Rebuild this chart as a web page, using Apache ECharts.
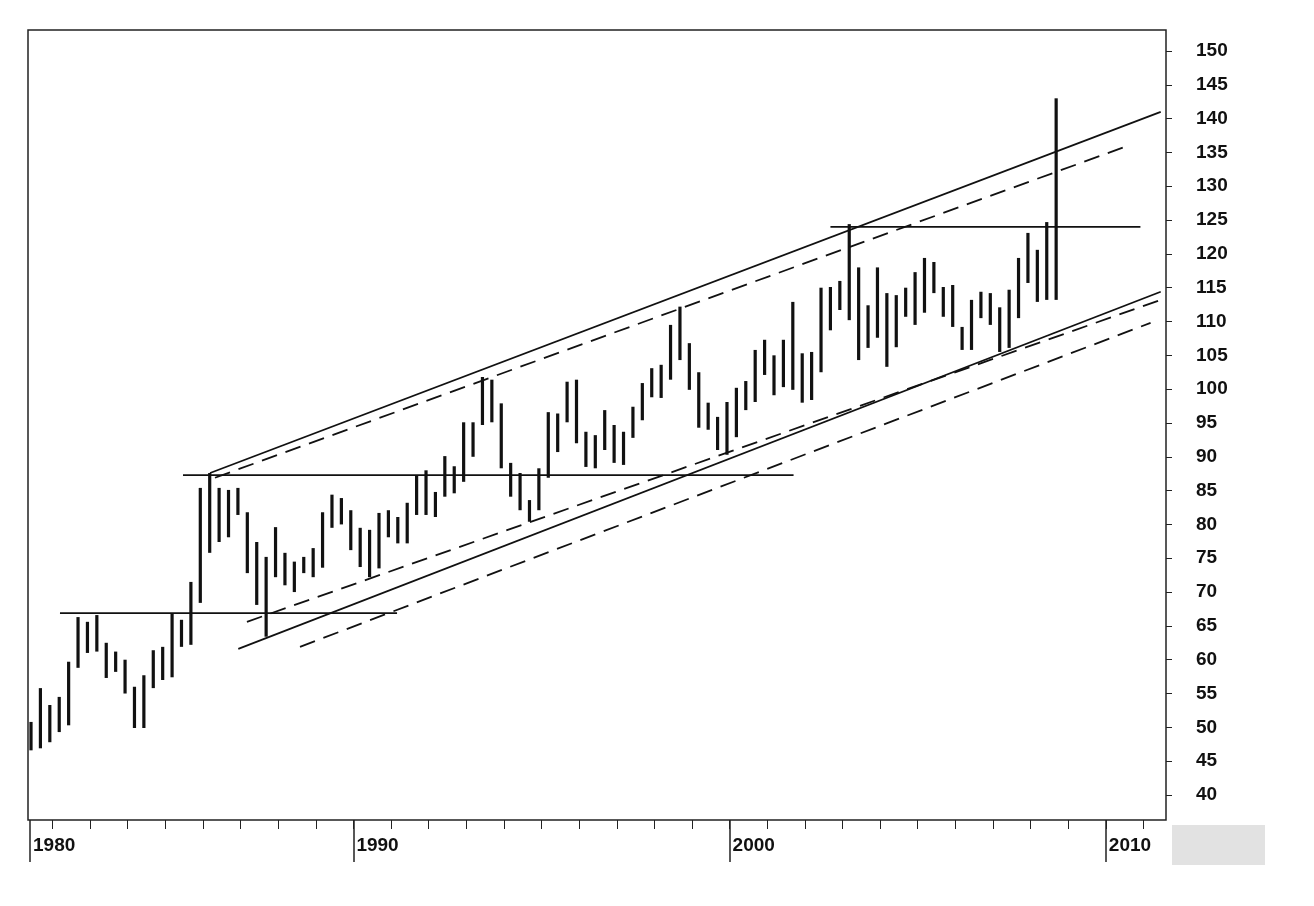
<!DOCTYPE html>
<html>
<head>
<meta charset="utf-8">
<script src="https://cdn.jsdelivr.net/npm/echarts@6/dist/echarts.min.js"></script>
<style>
  html, body { margin: 0; padding: 0; background: #fff; }
  #chart { width: 1314px; height: 906px; }
</style>
</head>
<body>
<div id="chart"></div>
<script>
// quarterly high/low ranges, first bar at 1981.43, one bar per quarter
const firstQuarter = 1981.43;
const highs = [
  50.8, 55.8, 53.3, 54.5, 59.7, 66.3, 65.6, 66.6, 62.5, 61.2, 60.0, 56.0, 57.7, 61.4, 61.9, 66.9,
  65.9, 71.5, 85.4, 87.6, 85.4, 85.1, 85.4, 81.8, 77.4, 75.2, 79.6, 75.8, 74.5, 75.2, 76.5, 81.8,
  84.4, 83.9, 82.1, 79.5, 79.2, 81.7, 82.1, 81.1, 83.2, 87.3, 88.0, 84.8, 90.1, 88.6, 95.1, 95.1,
  101.8, 101.4, 97.9, 89.1, 87.6, 83.6, 88.3, 96.6, 96.4, 101.1, 101.4, 93.7, 93.2, 96.9, 94.7,
  93.7, 97.4, 100.9, 103.1, 103.6, 109.5, 112.2, 106.8, 102.5, 98.0, 95.9, 98.1, 100.2, 101.2,
  105.8, 107.3, 105.0, 107.3, 112.9, 105.3, 105.5, 115.0, 115.1, 116.0, 124.4, 118.0, 112.4,
  118.0, 114.2, 113.9, 115.0, 117.3, 119.4, 118.8, 115.1, 115.4, 109.2, 113.2, 114.4, 114.2,
  112.1, 114.7, 119.4, 123.1, 120.6, 124.7, 143.0
];
const lows = [
  46.6, 46.9, 47.8, 49.3, 50.3, 58.8, 61.0, 61.2, 57.3, 58.2, 55.0, 49.9, 49.9, 55.8, 57.0, 57.4,
  61.9, 62.2, 68.4, 75.8, 77.4, 78.1, 81.4, 72.8, 68.1, 63.4, 72.2, 71.0, 70.0, 72.8, 72.2, 73.6,
  79.5, 80.0, 76.2, 73.7, 72.2, 73.5, 78.1, 77.2, 77.2, 81.4, 81.4, 81.1, 84.1, 84.6, 86.3, 90.0,
  94.7, 95.1, 88.3, 84.1, 82.1, 80.4, 82.1, 86.9, 90.7, 95.1, 92.0, 88.5, 88.3, 91.0, 89.1,
  88.8, 92.8, 95.4, 98.8, 98.7, 101.4, 104.3, 99.9, 94.3, 94.0, 91.0, 90.3, 92.9, 96.9,
  98.1, 102.1, 99.1, 100.3, 99.9, 98.0, 98.4, 102.5, 108.7, 111.7, 110.2, 104.3, 106.1,
  107.6, 103.3, 106.2, 110.7, 109.5, 111.3, 114.2, 110.7, 109.2, 105.8, 105.8, 110.5, 109.5,
  105.5, 106.1, 110.5, 115.7, 112.9, 113.2, 113.2
];

// drawn lines: [[x1, y1], [x2, y2]]
const solidLines = [
  [[1982.20, 66.9], [1991.16, 66.9]],
  [[1985.47, 87.3], [2001.70, 87.3]],
  [[2002.68, 124.0], [2010.92, 124.0]],
  [[1986.19, 87.6], [2011.46, 141.0]],
  [[1986.94, 61.6], [2011.46, 114.4]]
];
const dashedLines = [
  [[1986.32, 86.9], [2010.45, 135.7]],
  [[1987.17, 65.6], [2011.46, 113.2]],
  [[1988.58, 61.9], [2011.19, 109.8]]
];

const priceTicks = [];
for (let v = 40; v <= 150; v += 5) priceTicks.push(v);
const yearTicks = [];
for (let y = 1982; y <= 2011; y++) yearTicks.push(y);
const decadeTicks = [1990, 2000, 2010];

const chart = echarts.init(document.getElementById('chart'));

const barData = highs.map((h, i) => [firstQuarter + i * 0.25, lows[i], h]);

const lineSeries = [];
solidLines.forEach(seg => lineSeries.push({
  type: 'line', data: seg, symbol: 'none', silent: true,
  lineStyle: { color: '#111', width: 1.8 }
}));
dashedLines.forEach(seg => lineSeries.push({
  type: 'line', data: seg, symbol: 'none', silent: true,
  lineStyle: { color: '#111', width: 1.8, type: [16, 9] }
}));

const labelFont = { fontFamily: 'Liberation Sans Narrow, Liberation Sans', fontWeight: 'bold', fontSize: 19, color: '#111' };

chart.setOption({
  animation: false,
  grid: { left: 28, right: 148, top: 30, bottom: 86, show: true, borderColor: '#222', borderWidth: 1.5 },
  xAxis: [
    {
      type: 'value', min: 1981.35, max: 2011.6,
      axisLine: { show: false },
      axisTick: { customValues: yearTicks, length: 9, lineStyle: { color: '#222' } },
      axisLabel: { show: false },
      splitLine: { show: false }
    },
    {
      type: 'value', min: 1981.35, max: 2011.6, position: 'bottom',
      axisLine: { show: false },
      axisTick: { customValues: decadeTicks, length: 42, lineStyle: { color: '#222', width: 1.5 } },
      axisLabel: Object.assign({ customValues: decadeTicks, align: 'left', margin: 16, padding: [0, 0, 0, 3],
        formatter: v => String(v) }, labelFont),
      splitLine: { show: false }
    }
  ],
  yAxis: {
    type: 'value', position: 'right', min: 36.3, max: 153.1,
    axisLine: { show: false },
    axisTick: { customValues: priceTicks, length: 6, lineStyle: { color: '#222' } },
    axisLabel: Object.assign({ customValues: priceTicks, margin: 30 }, labelFont),
    splitLine: { show: false }
  },
  graphic: [
    { type: 'rect', shape: { x: 1172, y: 825, width: 93, height: 40 }, style: { fill: '#e2e2e2' } },
    { type: 'line', shape: { x1: 30, y1: 820, x2: 30, y2: 862 }, style: { stroke: '#222', lineWidth: 1.5 } },
    { type: 'text', left: 33, top: 836, style: { text: '1980', font: 'bold 19px "Liberation Sans Narrow", "Liberation Sans"', fill: '#111' } }
  ],
  series: [{
    type: 'custom',
    data: barData,
    renderItem: (params, api) => {
      const lo = api.coord([api.value(0), api.value(1)]);
      const hi = api.coord([api.value(0), api.value(2)]);
      return {
        type: 'line',
        shape: { x1: lo[0], y1: lo[1], x2: hi[0], y2: hi[1] },
        style: { stroke: '#111', lineWidth: 3.2 }
      };
    }
  }].concat(lineSeries)
});
</script>
</body>
</html>
